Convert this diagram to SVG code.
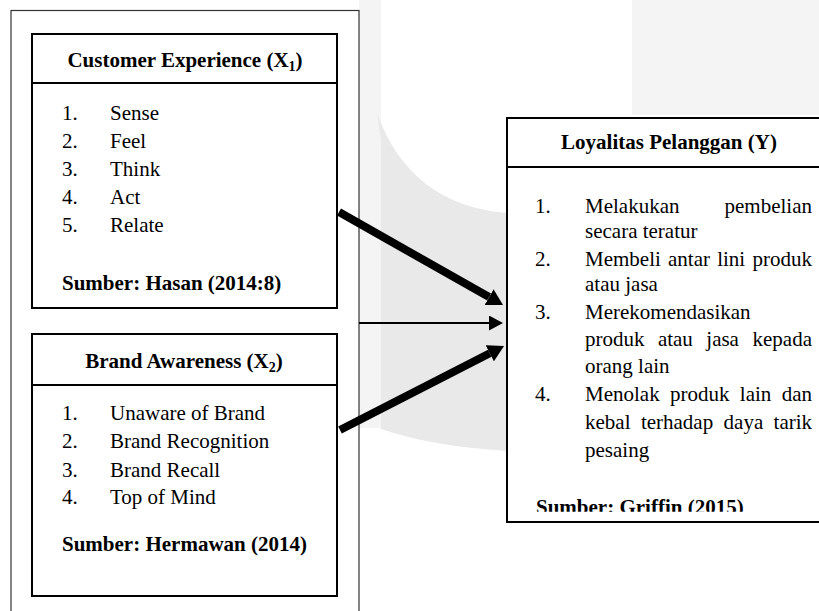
<svg xmlns="http://www.w3.org/2000/svg" width="819" height="611" viewBox="0 0 819 611">
<style>
  text { font-family: "Liberation Serif", "Times New Roman", serif; font-size: 21px; fill: #000; }
  .b { font-weight: bold; }
  .box { fill: #fff; stroke: #000; stroke-width: 2; }
  .sep { stroke: #000; stroke-width: 2; }
  .thick { stroke: #000; stroke-width: 8; fill: none; }
  .thin { stroke: #000; stroke-width: 2; fill: none; }
</style>
<defs>
  <marker id="hd" markerUnits="userSpaceOnUse" markerWidth="16" markerHeight="18" refX="0" refY="9" orient="auto" viewBox="0 0 16 18">
    <path d="M0,0 L16,9 L0,18 z" fill="#000"/>
  </marker>
  <marker id="hs" markerUnits="userSpaceOnUse" markerWidth="14" markerHeight="15" refX="0" refY="7.5" orient="auto" viewBox="0 0 14 15">
    <path d="M0,0 L14,7.5 L0,15 z" fill="#000"/>
  </marker>
  <clipPath id="clipY"><rect x="500" y="110" width="330" height="401.7"/></clipPath>
</defs>
<rect width="819" height="611" fill="#fff"/>
<g id="watermark">
  <rect x="632" y="0" width="187" height="115" fill="#f4f4f4"/>
  <rect x="359" y="0" width="22" height="428" fill="#f4f4f4"/>
  <path d="M377,113 Q410,205 507,213 L507,451 Q430,446 381,429 L381,140 Z" fill="#e9e9e9"/>
</g>
<g id="outer">
  <rect x="11" y="10.5" width="348" height="700" fill="#fff" stroke="#333" stroke-width="1.2"/>
</g>
<g id="customer-experience">
  <rect class="box" x="32" y="34" width="305" height="274"/>
  <line class="sep" x1="32" y1="83" x2="337" y2="83"/>
  <text class="b" x="185" y="67" text-anchor="middle">Customer Experience (X<tspan font-size="14" dy="4">1</tspan><tspan dy="-4">)</tspan></text>
  <text x="62" y="119.5">1.</text><text x="110" y="119.5">Sense</text>
  <text x="62" y="147.7">2.</text><text x="110" y="147.7">Feel</text>
  <text x="62" y="176">3.</text><text x="110" y="176">Think</text>
  <text x="62" y="204">4.</text><text x="110" y="204">Act</text>
  <text x="62" y="232">5.</text><text x="110" y="232">Relate</text>
  <text class="b" x="62" y="290">Sumber: Hasan (2014:8)</text>
</g>
<g id="brand-awareness">
  <rect class="box" x="32" y="334" width="305" height="262"/>
  <line class="sep" x1="32" y1="385" x2="337" y2="385"/>
  <text class="b" x="184" y="368" text-anchor="middle">Brand Awareness (X<tspan font-size="14" dy="4">2</tspan><tspan dy="-4">)</tspan></text>
  <text x="62" y="420">1.</text><text x="110" y="420">Unaware of Brand</text>
  <text x="62" y="448">2.</text><text x="110" y="448">Brand Recognition</text>
  <text x="62" y="477">3.</text><text x="110" y="477">Brand Recall</text>
  <text x="62" y="504">4.</text><text x="110" y="504">Top of Mind</text>
  <text class="b" x="62" y="551">Sumber: Hermawan (2014)</text>
</g>
<g id="loyalitas-pelanggan">
  <rect class="box" x="507" y="118" width="330" height="404"/>
  <line class="sep" x1="507" y1="167" x2="819" y2="167"/>
  <text class="b" x="669" y="149" text-anchor="middle">Loyalitas Pelanggan (Y)</text>
  <text x="535" y="212.7">1.</text>
  <text y="212.7"><tspan x="585">Melakukan</tspan><tspan x="724.5">pembelian</tspan></text>
  <text x="585" y="238">secara teratur</text>
  <text x="535" y="265.5">2.</text>
  <text y="265.5"><tspan x="585">Membeli</tspan><tspan x="668">antar</tspan><tspan x="717.2">lini</tspan><tspan x="752.4">produk</tspan></text>
  <text x="585" y="291">atau jasa</text>
  <text x="535" y="318.5">3.</text>
  <text x="585" y="318.5">Merekomendasikan</text>
  <text y="345.5"><tspan x="585">produk</tspan><tspan x="657.9">atau</tspan><tspan x="706.3">jasa</tspan><tspan x="752.5">kepada</tspan></text>
  <text x="585" y="373">orang lain</text>
  <text x="535" y="401">4.</text>
  <text y="401"><tspan x="585">Menolak</tspan><tspan x="670">produk</tspan><tspan x="739.8">lain</tspan><tspan x="781.7">dan</tspan></text>
  <text y="429"><tspan x="585">kebal</tspan><tspan x="640.9">terhadap</tspan><tspan x="723.6">daya</tspan><tspan x="773.6">tarik</tspan></text>
  <text x="585" y="456.7">pesaing</text>
  <text class="b" x="536" y="514" clip-path="url(#clipY)">Sumber: Griffin (2015)</text>
</g>
<g id="connectors">
  <line class="thick" x1="339" y1="212" x2="489.1" y2="297.1" marker-end="url(#hd)"/>
  <line class="thin" x1="359" y1="323" x2="489" y2="323" marker-end="url(#hs)"/>
  <line class="thick" x1="340" y1="430" x2="489.8" y2="353.3" marker-end="url(#hd)"/>
</g>
</svg>
